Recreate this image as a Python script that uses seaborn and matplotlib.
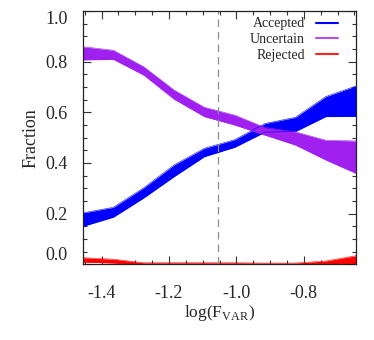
import numpy as np
import pandas as pd
import matplotlib
matplotlib.use("Agg")
import matplotlib.pyplot as plt
from matplotlib.lines import Line2D
from matplotlib.ticker import MultipleLocator
import seaborn as sns

# ---- data ----
log_fvar = [-1.455, -1.365, -1.275, -1.185, -1.095, -1.005, -0.915, -0.825, -0.735, -0.645]
accepted_lo = [0.150, 0.186, 0.262, 0.346, 0.425, 0.462, 0.522, 0.524, 0.583, 0.584]
accepted_hi = [0.203, 0.225, 0.302, 0.392, 0.458, 0.492, 0.556, 0.580, 0.662, 0.704]
uncertain_lo = [0.807, 0.809, 0.747, 0.652, 0.583, 0.550, 0.510, 0.471, 0.412, 0.359]
uncertain_hi = [0.859, 0.845, 0.780, 0.688, 0.620, 0.589, 0.540, 0.523, 0.490, 0.487]
rejected_lo = [0.009, 0.005, 0.0, 0.0, 0.0, 0.0, 0.0, 0.0, 0.0, 0.0]
rejected_hi = [0.026, 0.020, 0.006, 0.006, 0.006, 0.006, 0.005, 0.005, 0.013, 0.034]
labels = ["Accepted", "Uncertain", "Rejected"]
colors = ["#0000ff", "#a020f0", "#ff0000"]
legend_colors = ["#0000ff", "#b450f0", "#ff2020"]
threshold = -1.055

sns.set_style("ticks")
plt.rcParams["font.family"] = ["Liberation Serif", "DejaVu Serif"]
plt.rcParams["mathtext.fontset"] = "custom"
plt.rcParams["mathtext.rm"] = "Liberation Serif"

fig = plt.figure(figsize=(3.74, 3.40), dpi=100)
ax = fig.add_axes([0.222, 0.2226, 0.730, 0.745])

bands = [(accepted_lo, accepted_hi), (uncertain_lo, uncertain_hi), (rejected_lo, rejected_hi)]
for (lo, hi), c in zip(bands, colors):
    ax.fill_between(log_fvar, lo, hi, color=c, linewidth=0)
    d = pd.DataFrame({"x": log_fvar, "lo": lo, "hi": hi})
    sns.lineplot(data=d, x="x", y="lo", color=c, linewidth=0.4, ax=ax)
    sns.lineplot(data=d, x="x", y="hi", color=c, linewidth=0.4, ax=ax)

ax.axvline(threshold, color="#8c8c8c", linestyle=(0, (6, 4)), linewidth=0.9)

ax.set_xlim(-1.455, -0.645)
ax.set_ylim(0.0, 1.0)
ax.xaxis.set_minor_locator(MultipleLocator(0.05))
ax.yaxis.set_minor_locator(MultipleLocator(0.05))
ax.set_xticks([-1.4, -1.2, -1.0, -0.8])
ax.set_xticklabels(["-1.4", "-1.2", "-1.0", "-0.8"])
ax.set_yticks([0.0, 0.2, 0.4, 0.6, 0.8, 1.0])
ax.set_yticklabels(["0.0", "0.2", "0.4", "0.6", "0.8", "1.0"])
ax.tick_params(which="both", direction="in", top=True, right=True, labelsize=13, width=0.8, color="#333333")
ax.tick_params(which="major", length=6)
ax.tick_params(axis="y", which="major", pad=11)
ax.tick_params(axis="x", which="major", pad=15)
ax.tick_params(which="minor", length=3)
for s in ax.spines.values():
    s.set_linewidth(0.9)
    s.set_color("#222222")
ylabs = ax.get_yticklabels()
ylabs[0].set_va("bottom")
ylabs[-1].set_va("top")

ax.set_xlabel(r"log(F$_{\mathrm{VAR}}$)", fontsize=12.5, labelpad=0.5)
ax.set_ylabel("Fraction", fontsize=13, labelpad=4.5)

handles = [Line2D([0], [0], color=c, linewidth=1.5) for c in legend_colors]
ax.legend(handles, labels, loc="upper right", frameon=False, markerfirst=False,
          fontsize=10, handlelength=1.6, handletextpad=0.8, labelspacing=0.2,
          borderaxespad=0.0, borderpad=0.1,
          bbox_to_anchor=(1 - 16.5 / 273, 1 - 5.0 / 253))

fig.savefig("out.png", dpi=100)
